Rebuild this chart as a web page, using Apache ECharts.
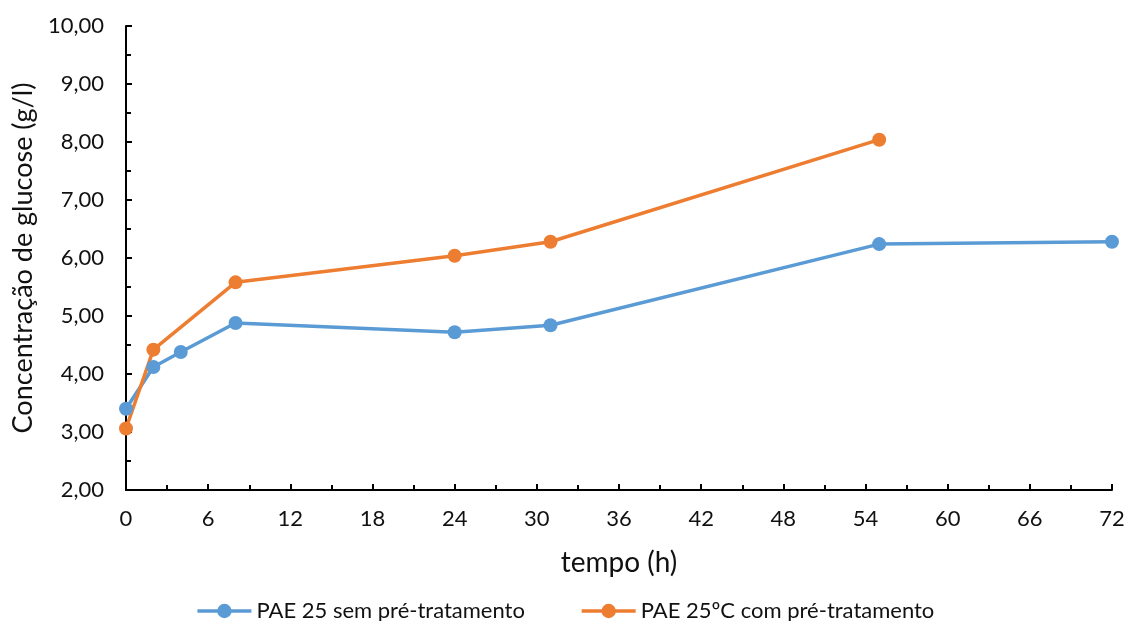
<!DOCTYPE html>
<html><head><meta charset="utf-8">
<script src="https://cdn.jsdelivr.net/npm/echarts@6/dist/echarts.min.js"></script>
<style>html,body{margin:0;padding:0;background:#fff}#c{width:1130px;height:621px}</style>
</head><body><div id="c"></div>
<script>
const seriesNames = ['PAE 25 sem pré-tratamento', 'PAE 25ºC com pré-tratamento'];
const blueX = [0, 2, 4, 8, 24, 31, 55, 72];
const blueY = [3.40, 4.12, 4.38, 4.88, 4.72, 4.84, 6.24, 6.28];
const orangeX = [0, 2, 8, 24, 31, 55];
const orangeY = [3.06, 4.42, 5.58, 6.04, 6.28, 8.04];
const xTitle = 'tempo (h)';
const yTitle = 'Concentração de glucose (g/l)';

const font = 'Lato, "Open Sans", sans-serif';
const chart = echarts.init(document.getElementById('c'), null, {renderer: 'canvas'});
const pair = (xs, ys) => xs.map((x, i) => [x, ys[i]]);
chart.setOption({
  animation: false,
  textStyle: {fontFamily: font},
  grid: {left: 126, right: 18, top: 26, bottom: 131, containLabel: false},
  legend: {
    top: 595, left: 'center',
    itemWidth: 54, itemHeight: 18, itemGap: 55,
    lineStyle: {width: 3.5},
    textStyle: {fontSize: 22, color: '#111', fontFamily: font},
    data: seriesNames
  },
  xAxis: {
    type: 'value', min: 0, max: 72, interval: 6,
    name: xTitle, nameLocation: 'middle', nameGap: 59,
    nameTextStyle: {fontSize: 28, color: '#111'},
    axisLine: {lineStyle: {color: '#000', width: 2}},
    axisTick: {show: true, inside: true, length: 6, lineStyle: {color: '#000', width: 2}},
    minorTick: {show: true, splitNumber: 2, length: 5, lineStyle: {color: '#000', width: 2}},
    axisLabel: {fontSize: 22, color: '#111', margin: 18},
    splitLine: {show: false}
  },
  yAxis: {
    type: 'value', min: 2, max: 10, interval: 1,
    name: yTitle, nameLocation: 'middle', nameGap: 88,
    nameTextStyle: {fontSize: 27, color: '#111'},
    axisLine: {show: true, lineStyle: {color: '#000', width: 2}},
    axisTick: {show: true, inside: true, length: 6, lineStyle: {color: '#000', width: 2}},
    minorTick: {show: true, splitNumber: 2, length: 5, lineStyle: {color: '#000', width: 2}},
    axisLabel: {fontSize: 22, color: '#111', margin: 22, formatter: v => v.toFixed(2).replace('.', ',')},
    splitLine: {show: false}
  },
  series: [
    {name: seriesNames[0], type: 'line', data: pair(blueX, blueY),
     symbol: 'circle', symbolSize: 14, color: '#5B9BD5',
     lineStyle: {width: 3.5, color: '#5B9BD5'}, itemStyle: {color: '#5B9BD5'}},
    {name: seriesNames[1], type: 'line', data: pair(orangeX, orangeY),
     symbol: 'circle', symbolSize: 14, color: '#ED7D31',
     lineStyle: {width: 3.5, color: '#ED7D31'}, itemStyle: {color: '#ED7D31'}}
  ]
});
</script></body></html>
